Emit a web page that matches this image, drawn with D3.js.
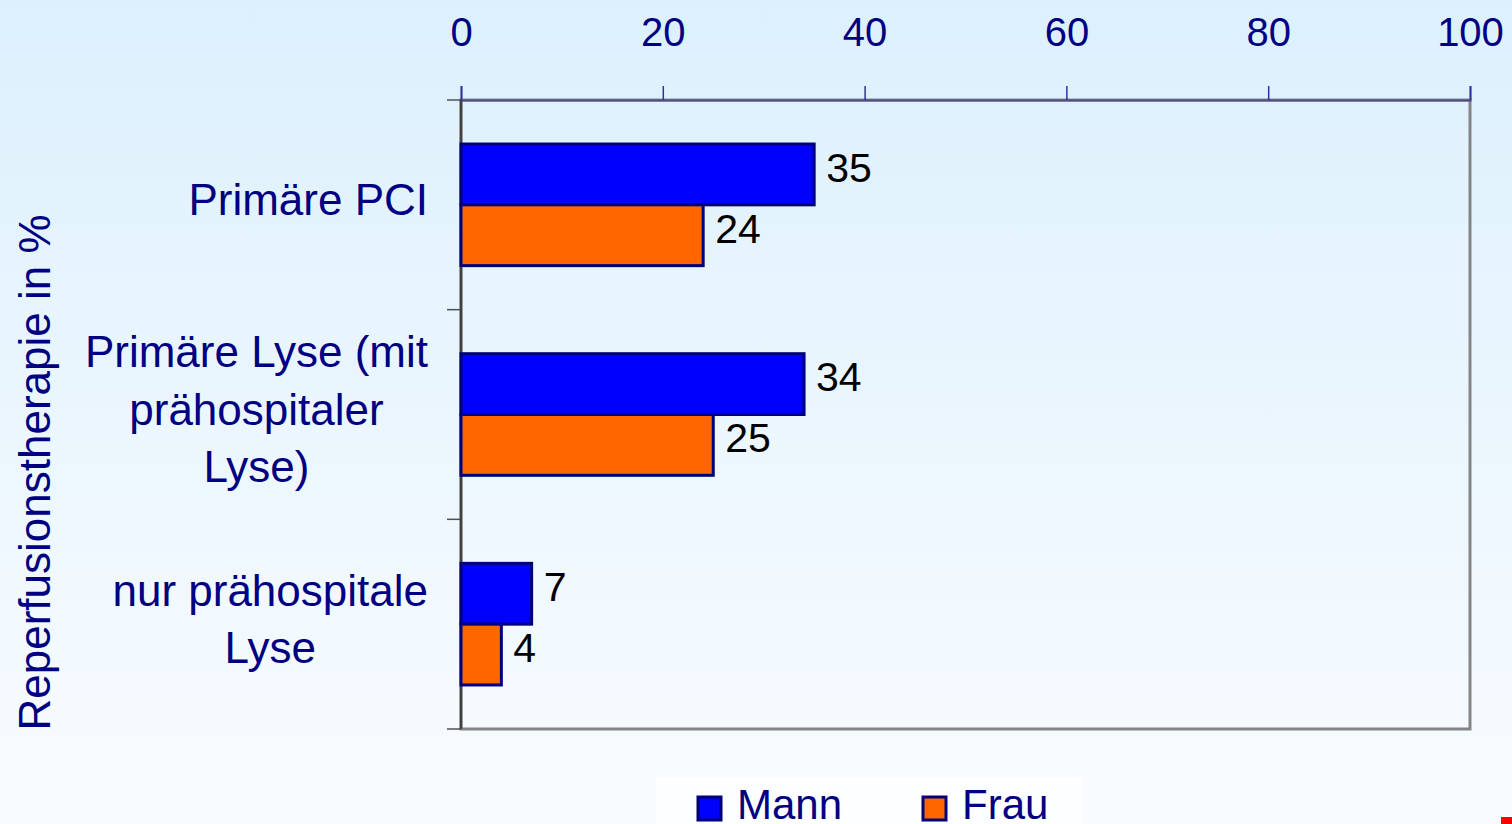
<!DOCTYPE html>
<html>
<head>
<meta charset="utf-8">
<script src="https://cdn.jsdelivr.net/npm/d3@7"></script>
<style>
  html, body { margin: 0; padding: 0; overflow: hidden; }
  body { font-family: "Liberation Sans", Arial, Helvetica, sans-serif; }
</style>
</head>
<body>
<svg id="chart"></svg>
<script>
// data
var categories = [
  ['Primäre PCI'],
  ['Primäre Lyse (mit', 'prähospitaler', 'Lyse)'],
  ['nur prähospitale', 'Lyse']
];
var seriesNames = ['Mann', 'Frau'];
var seriesColors = ['#0000ff', '#ff6600'];
var mannValues = [35, 34, 7];
var frauValues = [24, 25, 4];
var xTicks = [0, 20, 40, 60, 80, 100];

var W = 1512, H = 824;
var navy = '#000080';
var plot = {left: 461, right: 1470, top: 100, bottom: 729};

var svg = d3.select('#chart').attr('width', W).attr('height', H);

// background gradient
var defs = svg.append('defs');
var grad = defs.append('linearGradient').attr('id', 'bg')
  .attr('x1', 0).attr('y1', 0).attr('x2', 0).attr('y2', 1);
grad.append('stop').attr('offset', '0%').attr('stop-color', '#dcf0fd');
grad.append('stop').attr('offset', '100%').attr('stop-color', '#f9fcff');
svg.append('rect').attr('width', W).attr('height', H).attr('fill', 'url(#bg)');

var x = d3.scaleLinear().domain([0, 100]).range([plot.left, plot.right]);
var y = d3.scaleBand().domain(d3.range(categories.length))
  .range([plot.top, plot.bottom]).paddingInner(0.42).paddingOuter(0.21);
var ySub = d3.scaleBand().domain([0, 1]).range([0, y.bandwidth()]);

// plot frame
svg.append('rect')
  .attr('x', plot.left).attr('y', plot.top)
  .attr('width', plot.right - plot.left).attr('height', plot.bottom - plot.top)
  .attr('fill', 'none').attr('stroke', '#858585').attr('stroke-width', 3);

// top axis
var xAxis = svg.append('g').attr('transform', 'translate(0,' + plot.top + ')')
  .call(d3.axisTop(x).tickValues(xTicks).tickSize(14).tickPadding(40));
xAxis.select('.domain').attr('stroke', '#4a4a8a').attr('stroke-width', 2);
xAxis.selectAll('.tick line').attr('stroke', '#3030a0').attr('stroke-width', 1.5);
xAxis.selectAll('.tick text').attr('fill', navy)
  .style('font-size', '40px').style('font-family', '"Liberation Sans", Arial, sans-serif');

// left axis: ticks at category boundaries
var yBounds = d3.range(categories.length + 1).map(function (i) {
  return plot.top + i * (plot.bottom - plot.top) / categories.length;
});
svg.append('g').selectAll('line').data(yBounds).enter().append('line')
  .attr('x1', plot.left - 14).attr('x2', plot.left)
  .attr('y1', function (d) { return d; }).attr('y2', function (d) { return d; })
  .attr('stroke', '#505050').attr('stroke-width', 1.5);
svg.append('line')
  .attr('x1', plot.left).attr('x2', plot.left)
  .attr('y1', plot.top).attr('y2', plot.bottom)
  .attr('stroke', '#404040').attr('stroke-width', 2.5);

// bars
var rows = categories.map(function (c, i) {
  return [mannValues[i], frauValues[i]];
});
var groups = svg.selectAll('g.cat').data(rows).enter().append('g')
  .attr('class', 'cat')
  .attr('transform', function (d, i) { return 'translate(0,' + y(i) + ')'; });
groups.selectAll('rect').data(function (d) { return d; }).enter().append('rect')
  .attr('x', x(0))
  .attr('y', function (d, j) { return ySub(j); })
  .attr('width', function (d) { return x(d) - x(0); })
  .attr('height', ySub.bandwidth())
  .attr('fill', function (d, j) { return seriesColors[j]; })
  .attr('stroke', '#00007a').attr('stroke-width', 3);
groups.selectAll('text').data(function (d) { return d; }).enter().append('text')
  .attr('x', function (d) { return x(d) + 12; })
  .attr('y', function (d, j) { return ySub(j) + ySub.bandwidth() / 2 - 7; })
  .attr('dy', '0.35em')
  .attr('fill', '#000').style('font-size', '41px')
  .text(function (d) { return d; });

// category labels: centred lines, block right-aligned to 428
var labelRight = 428, lineH = 57.5;
categories.forEach(function (lines, i) {
  var cy = y(i) + y.bandwidth() / 2 - 5;
  var t = svg.append('text').attr('fill', navy).style('font-size', '44px')
    .attr('text-anchor', 'middle');
  var spans = lines.map(function (l, k) {
    return t.append('tspan').text(l)
      .attr('y', cy + (k - (lines.length - 1) / 2) * lineH)
      .attr('dy', '0.35em');
  });
  var maxW = d3.max(spans, function (s) { return s.node().getComputedTextLength(); });
  spans.forEach(function (s) { s.attr('x', labelRight - maxW / 2); });
});

// y axis title
svg.append('text')
  .attr('transform', 'translate(50,' + (plot.top + plot.bottom) / 2 + ') rotate(-90)')
  .attr('y', 0).attr('x', -58)
  .attr('text-anchor', 'middle')
  .attr('fill', navy).style('font-size', '44px')
  .text('Reperfusionstherapie in %');

// legend
var legend = svg.append('g');
legend.append('rect').attr('x', 656).attr('y', 777).attr('width', 426).attr('height', 60)
  .attr('fill', '#fdfeff');
var legendX = [698, 923];
seriesNames.forEach(function (name, i) {
  legend.append('rect')
    .attr('x', legendX[i]).attr('y', 797).attr('width', 23).attr('height', 23)
    .attr('fill', seriesColors[i]).attr('stroke', '#00007a').attr('stroke-width', 3);
  legend.append('text')
    .attr('x', legendX[i] + 39).attr('y', 819)
    .attr('fill', navy).style('font-size', '42px')
    .text(name);
});

// small red mark at bottom right
svg.append('rect').attr('x', 1501).attr('y', 817).attr('width', 11).attr('height', 7)
  .attr('fill', '#ff0000');
</script>
</body>
</html>
